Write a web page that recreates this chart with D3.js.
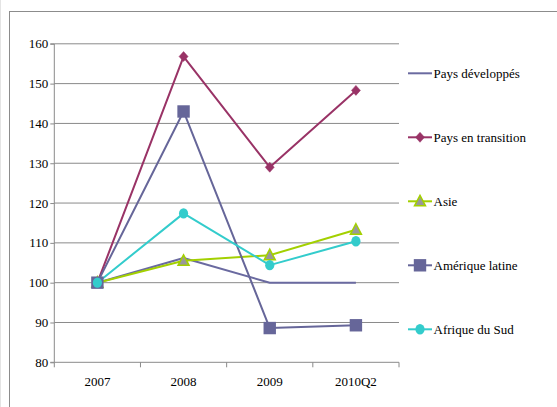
<!DOCTYPE html>
<html>
<head>
<meta charset="utf-8">
<script src="https://cdn.jsdelivr.net/npm/d3@7"></script>
<style>
  html, body { margin: 0; padding: 0; background: #fff; }
  svg { display: block; }
  svg text.lbl { font-family: "Liberation Serif", "Tinos", "Times New Roman", serif !important; }
</style>
</head>
<body>
<svg id="chart" width="557" height="407"></svg>
<script>
// Categories and index values (2007 = 100)
const categories = ["2007", "2008", "2009", "2010Q2"];
const yTicks = [80, 90, 100, 110, 120, 130, 140, 150, 160];

const paysDeveloppes   = [100, 106.2, 100.0, 100.0];
const paysTransition   = [100, 156.8, 129.0, 148.3];
const asie             = [100, 105.5, 106.9, 113.3];
const ameriqueLatine   = [100, 143.0, 88.6, 89.3];
const afriqueDuSud     = [100, 117.4, 104.4, 110.4];

const seriesNames = ["Pays développés", "Pays en transition", "Asie", "Amérique latine", "Afrique du Sud"];

const series = [
  { name: seriesNames[0], values: paysDeveloppes, color: "#6a6aa0", marker: null },
  { name: seriesNames[1], values: paysTransition, color: "#993366", marker: "diamond" },
  { name: seriesNames[2], values: asie,           color: "#a3d000", marker: "triangle" },
  { name: seriesNames[3], values: ameriqueLatine, color: "#666699", marker: "square" },
  { name: seriesNames[4], values: afriqueDuSud,   color: "#33cccc", marker: "circle" }
];

const svg = d3.select("#chart");

// Outer chart frame
svg.append("line").attr("x1", 0.5).attr("x2", 0.5).attr("y1", 0).attr("y2", 407)
  .attr("stroke", "#e4e4e4").attr("stroke-width", 1);
svg.append("rect").attr("x", 9.5).attr("y", 11.5).attr("width", 560).attr("height", 410)
  .attr("fill", "none").attr("stroke", "#8c8c8c").attr("stroke-width", 1);

const plot = { left: 54.3, right: 399, top: 43.8, bottom: 362.3 };

const x = d3.scaleBand().domain(categories).range([plot.left, plot.right]);
const y = d3.scaleLinear().domain([80, 160]).range([plot.bottom, plot.top]);
const cx = c => x(c) + x.bandwidth() / 2;

// Horizontal gridlines
svg.append("g")
  .selectAll("line")
  .data(yTicks.filter(t => t > 80))
  .join("line")
  .attr("x1", plot.left).attr("x2", plot.right)
  .attr("y1", d => y(d)).attr("y2", d => y(d))
  .attr("stroke", "#8a8a8a").attr("stroke-width", 1);

// Y axis line and ticks (drawn from the linear scale)
const yAxis = svg.append("g")
  .attr("transform", `translate(${plot.left},0)`)
  .call(d3.axisLeft(y).tickValues(yTicks).tickSize(4).tickFormat(""));
yAxis.select(".domain").attr("stroke", "#8a8a8a").attr("d", `M-4,${plot.top}H0V${plot.bottom}H-4`);
yAxis.selectAll(".tick line").attr("stroke", "#8a8a8a");
yAxis.selectAll(".tick text").remove();

// Y tick labels
svg.append("g").selectAll("text")
  .data(yTicks)
  .join("text")
  .attr("class", "lbl")
  .attr("x", plot.left - 6)
  .attr("y", d => y(d))
  .attr("dy", "0.35em")
  .attr("text-anchor", "end")
  .attr("font-size", 13)
  .attr("fill", "#000")
  .text(d => d);

// X axis line with ticks between categories
const xAxis = svg.append("g").attr("transform", `translate(0,${plot.bottom})`);
xAxis.append("path").attr("stroke", "#8a8a8a").attr("fill", "none")
  .attr("d", `M${plot.left},0H${plot.right}`);
const bounds = categories.map(c => x(c)).concat([x(categories[categories.length - 1]) + x.bandwidth()]);
xAxis.selectAll(".sep")
  .data(bounds)
  .join("line")
  .attr("class", "sep")
  .attr("x1", d => d).attr("x2", d => d)
  .attr("y1", 0).attr("y2", 5)
  .attr("stroke", "#8a8a8a");
xAxis.selectAll("text")
  .data(categories)
  .join("text")
  .attr("class", "lbl")
  .attr("x", d => cx(d))
  .attr("y", 24)
  .attr("text-anchor", "middle")
  .attr("font-size", 13)
  .attr("fill", "#000")
  .text(d => d);

const line = d3.line()
  .x((d, i) => cx(categories[i]))
  .y(d => y(d));

function drawMarker(g, type, color, px, py) {
  if (type === "diamond") {
    g.append("path")
      .attr("d", `M${px},${py - 5}L${px + 4.5},${py}L${px},${py + 5}L${px - 4.5},${py}Z`)
      .attr("fill", color).attr("stroke", color).attr("stroke-width", 0.5);
  } else if (type === "triangle") {
    g.append("path")
      .attr("d", `M${px},${py - 6}L${px + 5.5},${py + 4.5}L${px - 5.5},${py + 4.5}Z`)
      .attr("fill", "#999999").attr("stroke", color).attr("stroke-width", 1.5);
  } else if (type === "square") {
    g.append("rect")
      .attr("x", px - 6.2).attr("y", py - 6.2).attr("width", 12.4).attr("height", 12.4)
      .attr("fill", color);
  } else if (type === "circle") {
    g.append("ellipse")
      .attr("cx", px).attr("cy", py).attr("rx", 4.6).attr("ry", 5.2)
      .attr("fill", color);
  }
}

// Lines first, then markers on top
const lines = svg.append("g");
series.forEach(s => {
  lines.append("path")
    .datum(s.values)
    .attr("d", line)
    .attr("fill", "none")
    .attr("stroke", s.color)
    .attr("stroke-width", 2)
    .attr("stroke-linejoin", "round");
});
const marks = svg.append("g");
series.forEach(s => {
  if (!s.marker) return;
  s.values.forEach((v, j) => drawMarker(marks, s.marker, s.color, cx(categories[j]), y(v)));
});

// Legend
const legendY = d3.scalePoint().domain(seriesNames).range([73.3, 329.3]);
const legend = svg.append("g");
series.forEach(s => {
  const ly = legendY(s.name);
  legend.append("line")
    .attr("x1", 408).attr("x2", 432).attr("y1", ly).attr("y2", ly)
    .attr("stroke", s.color).attr("stroke-width", 2);
  if (s.marker) drawMarker(legend, s.marker, s.color, 420, ly);
  legend.append("text")
    .attr("class", "lbl")
    .attr("x", 433.5).attr("y", ly).attr("dy", "0.35em")
    .attr("font-size", 13)
    .attr("fill", "#000")
    .text(s.name);
});
</script>
</body>
</html>
